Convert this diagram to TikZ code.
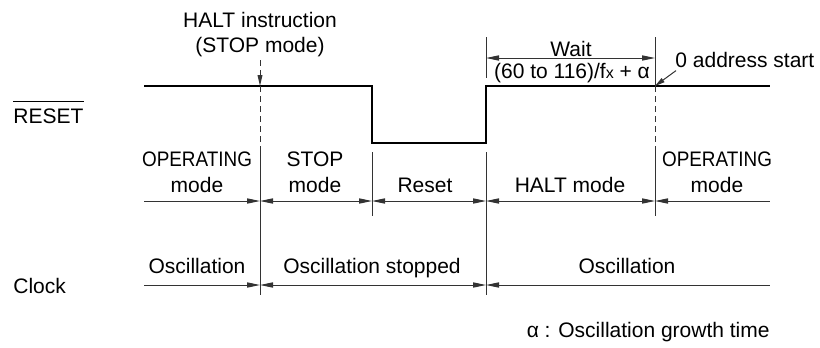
\documentclass[tikz,border=0pt]{standalone}
\usepackage{fontspec}
\setmainfont{Liberation Sans}
\usetikzlibrary{arrows.meta}

\begin{document}
\begin{tikzpicture}[x=0.5pt, y=-0.5pt,
    every node/.style={font=\fontsize{10.5}{13}\selectfont, inner sep=0pt},
    signal/.style={line width=1.4pt, line join=miter},
    guide/.style={line width=0.5pt, black!80},
    halfdash/.style={guide, dash pattern=on 3pt off 2pt},
    narrow/.style={anchor=base, xscale=0.9},
    tip/.tip={Triangle[length=6.5pt, width=2.6pt]},
    dimline/.style={guide, tip-tip}]
    \useasboundingbox (0,0) rectangle (820,348);
    % time marks and levels
    \foreach \nm/\x in {t0/144, t1/260, t2/372, t3/486, t4/655, t5/770} \coordinate (\nm) at (\x,0);
    \foreach \nm/\y in {hi/86, lo/143, wy/58, mrow/201, crow/285} \coordinate (\nm) at (0,\y);
    % signal names
    \node[anchor=base west] (rst) at (13,123) {RESET};
    \draw[line width=0.5pt] ([yshift=3pt]rst.north west) -- ([yshift=3pt]rst.north east);
    \node[anchor=base west] (clk) at (13,293) {Clock};
    % RESET waveform
    \draw[signal] (t0 |- hi) -- (t2 |- hi) -- (t2 |- lo) -- (t3 |- lo) -- (t3 |- hi) -- (t5 |- hi);
    % HALT instruction
    \node[anchor=base] (halt) at (260,27) {HALT instruction};
    \node[anchor=base] (stopm) at (260,53) {(STOP mode)};
    \draw[halfdash, -{Triangle[length=5.5pt, width=2.4pt]}] (t1 |- 0,60) -- (t1 |- hi);
    \draw[halfdash] (t1 |- hi) -- (t1 |- 0,150);
    \draw[guide] (t1 |- 0,150) -- (t1 |- 0,295);
    \draw[guide] (t2 |- 0,152) -- (t2 |- 0,216);
    \draw[guide] (t3 |- 0,37) -- (t3 |- 0,78);
    \draw[guide] (t3 |- 0,152) -- (t3 |- 0,295);
    \draw[guide] (t4 |- 0,37) -- (t4 |- hi);
    \draw[halfdash] (t4 |- hi) -- (t4 |- 0,150);
    \draw[guide] (t4 |- 0,150) -- (t4 |- 0,216);
    % wait time
    \draw[dimline] (t3 |- wy) -- (t4 |- wy);
    \node[anchor=base] (wait) at (571,56) {Wait};
    \node[anchor=base] (wform) at (572,78) {(60 to 116)/f{\fontsize{8}{9}\selectfont x} + α};
    \node[anchor=base west] (addr) at (675,67) {0 address start};
    \draw[guide, -{Triangle[length=5pt, width=2.4pt]}] ([shift={(1,3)}]addr.south west) -- (t4 |- hi);
    % mode row
    \draw[guide, -tip] (t0 |- mrow) -- (t1 |- mrow);
    \foreach \a/\b in {t1/t2, t2/t3, t3/t4} \draw[dimline] (\a |- mrow) -- (\b |- mrow);
    \draw[guide, tip-] (t4 |- mrow) -- (t5 |- mrow);
    \node[narrow] (op0) at (197,166) {OPERATING};
    \node[anchor=base] (stp) at (315,166) {STOP};
    \node[narrow] (op4) at (717,166) {OPERATING};
    \foreach \nm/\x/\txt in {m0/197/mode, m1/315/mode, m2/425/Reset, m3/570/HALT mode, m4/717/mode}
        \node[anchor=base] (\nm) at (\x,192) {\txt};
    % clock row
    \draw[guide, -tip] (t0 |- crow) -- (t1 |- crow);
    \draw[dimline] (t1 |- crow) -- (t3 |- crow);
    \draw[guide, tip-] (t3 |- crow) -- (t5 |- crow);
    \foreach \nm/\x/\txt in {c0/197/Oscillation, c1/372/Oscillation stopped, c2/627/Oscillation}
        \node[anchor=base] (\nm) at (\x,273) {\txt};
    % note
    \node[anchor=base east] (note) at (770,337) {α : Oscillation growth time};
\end{tikzpicture}
\end{document}
